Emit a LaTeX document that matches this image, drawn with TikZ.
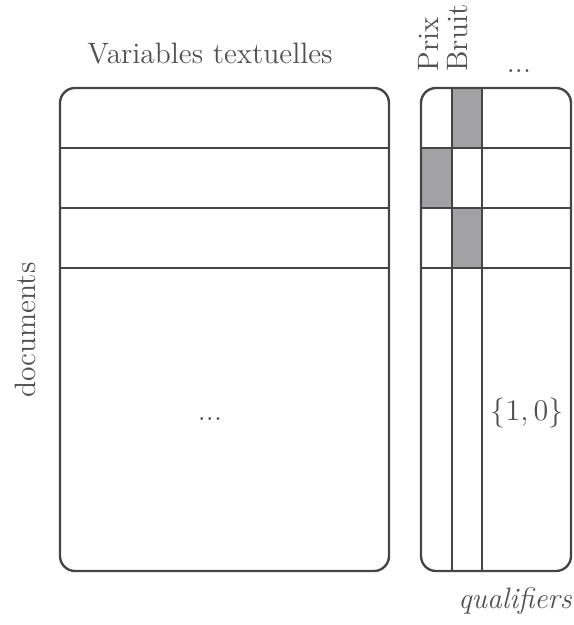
\documentclass[tikz,border=0pt]{standalone}
\begin{document}
\definecolor{ink}{HTML}{454545}
\definecolor{textink}{HTML}{505050}
\definecolor{cellgray}{HTML}{A2A2A4}
\begin{tikzpicture}[x=0.4pt,y=-0.4pt,
  frame/.style={draw=ink,line width=0.95pt},
  grid/.style={draw=ink,line width=0.8pt},
  marked/.style={fill=cellgray},
  lbl/.style={text=textink,font=\fontsize{11.8}{14}\selectfont,inner sep=0pt}]
\useasboundingbox (0,0) rectangle (573,625);
% shaded cells of the qualifier matrix
\fill[marked] (452,88) rectangle (482,148);
\fill[marked] (421,148) rectangle (452,208);
\fill[marked] (452,208) rectangle (482,268);
% document / textual variable matrix
\draw[grid] (60,148) -- (389,148) (60,208) -- (389,208) (60,268) -- (389,268);
\draw[frame,rounded corners=6pt] (60,88) rectangle (389,571);
% qualifier matrix
\draw[grid] (421,148) -- (571,148) (421,208) -- (571,208) (421,268) -- (571,268);
\draw[grid] (452,88) -- (452,571) (482,88) -- (482,571);
\draw[frame,rounded corners=6pt] (421,88) rectangle (571,571);
% labels
\node[lbl,anchor=base] (vt) at (210,64) {Variables textuelles};
\node[lbl,rotate=90,anchor=base] (doc) at (35,330) {documents};
\node[lbl,anchor=base] (dots) at (210,420) {...};
\node[lbl,rotate=90,anchor=base west] (prix) at (438,72) {Prix};
\node[lbl,rotate=90,anchor=base west] (bruit) at (467,72) {Bruit};
\node[lbl,anchor=base] (qdots) at (519,73) {...};
\node[lbl,anchor=base] (bin) at (527,420) {$\{1,0\}$};
\node[lbl,anchor=base] (qual) at (515,608) {\itshape qualifiers};
\end{tikzpicture}
\end{document}
